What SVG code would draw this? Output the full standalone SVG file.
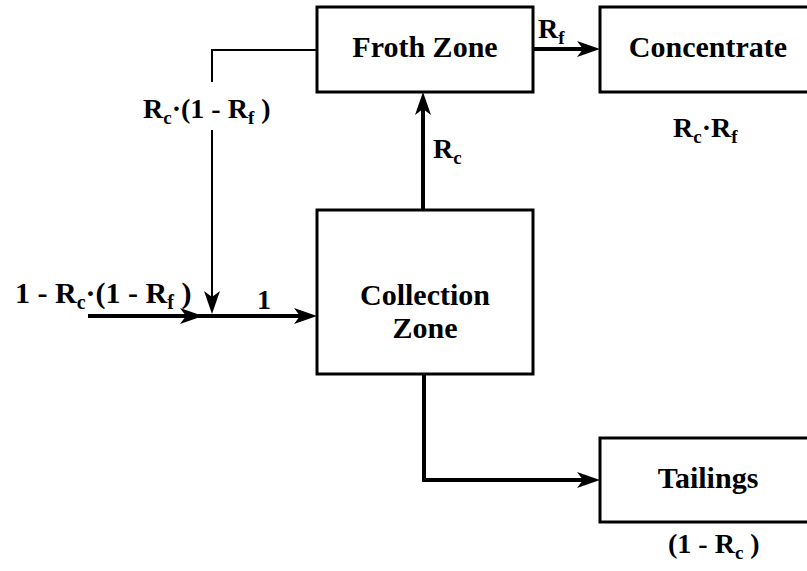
<svg xmlns="http://www.w3.org/2000/svg" width="807" height="571" viewBox="0 0 807 571">
<style>
.box{fill:#fff;stroke:#000;stroke-width:3}
text{font-family:'Liberation Serif','Times New Roman','DejaVu Serif',serif;font-weight:700;fill:#000}
.t{font-size:30px}
.l{font-size:28px}
.s{font-size:19px}
.thick{fill:none;stroke:#000;stroke-width:4}
.thin{fill:none;stroke:#000;stroke-width:2}
</style>
<defs>
<marker id="arr" markerUnits="userSpaceOnUse" markerWidth="24" markerHeight="18" refX="16" refY="9" orient="auto">
<path d="M0,1 L23,9 L0,17 L6,9 z" fill="#000"/>
</marker>
</defs>
<rect width="807" height="571" fill="#fff"/>
<g id="connectors">
<path class="thick" d="M533,49 L593,49" marker-end="url(#arr)"/>
<path class="thick" d="M423,210 L423,99" marker-end="url(#arr)"/>
<path class="thick" d="M424,374 L424,480 L593,480" marker-end="url(#arr)"/>
<path class="thin" d="M317,50 L212,50 L212,82"/>
<path class="thin" d="M212,130 L212,307" marker-end="url(#arr)"/>
<path class="thick" d="M88,316 L196,316" marker-end="url(#arr)"/>
<path class="thick" d="M198,316 L310,316" marker-end="url(#arr)"/>
</g>
<g id="froth">
<rect class="box" x="317" y="7" width="216" height="85"/>
<text class="t" x="425" y="57" text-anchor="middle">Froth Zone</text>
</g>
<g id="concentrate">
<rect class="box" x="600" y="7" width="216" height="85"/>
<text class="t" x="708" y="57" text-anchor="middle">Concentrate</text>
</g>
<g id="collection">
<rect class="box" x="317" y="210" width="216" height="164"/>
<text class="t" x="425" y="305" text-anchor="middle">Collection</text>
<text class="t" x="425" y="338" text-anchor="middle">Zone</text>
</g>
<g id="tailings">
<rect class="box" x="600" y="438" width="216" height="84"/>
<text class="t" x="708" y="488" text-anchor="middle">Tailings</text>
</g>
<g id="labels">
<text class="l" x="538" y="38">R<tspan class="s" dy="6">f</tspan></text>
<text class="l" x="433" y="158">R<tspan class="s" dy="6">c</tspan></text>
<text class="l" x="673" y="137">R<tspan class="s" dy="6">c</tspan><tspan dy="-6">·R</tspan><tspan class="s" dy="6">f</tspan></text>
<text class="l" x="143" y="118">R<tspan class="s" dy="6">c</tspan><tspan dy="-6">·(1 - R</tspan><tspan class="s" dy="6">f</tspan><tspan dy="-6"> )</tspan></text>
<text class="l" x="257" y="309">1</text>
<text class="l" x="15" y="303" style="font-size:30px">1 - R<tspan class="s" dy="6" style="font-size:20px">c</tspan><tspan dy="-6">·(1 - R</tspan><tspan class="s" dy="6" style="font-size:20px">f</tspan><tspan dy="-6"> )</tspan></text>
<text class="l" x="668" y="553">(1 - R<tspan class="s" dy="6">c</tspan><tspan dy="-6"> )</tspan></text>
</g>
</svg>
